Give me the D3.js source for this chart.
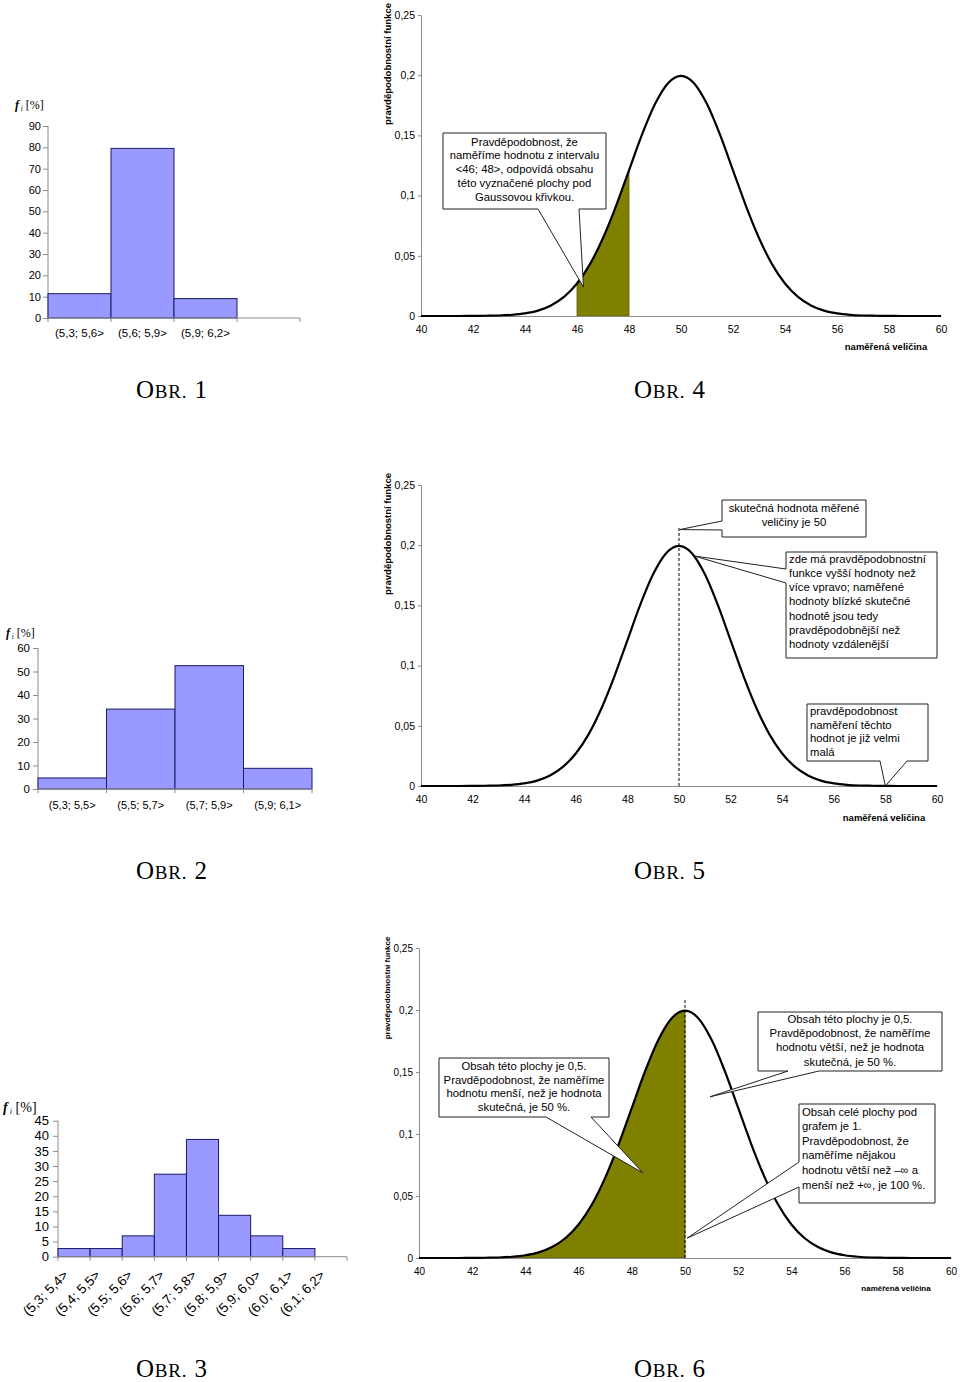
<!DOCTYPE html>
<html><head><meta charset="utf-8">
<script src="https://cdn.jsdelivr.net/npm/d3@7"></script>
<style>body{margin:0;background:#fff} svg{display:block}</style>
</head><body>
<svg id="c" width="960" height="1382"></svg>
<script>
// ---------------- data ----------------
const hist1Categories = ["(5,3; 5,6>", "(5,6; 5,9>", "(5,9; 6,2>"];
const hist1Values = [11.4, 79.5, 9.1];
const hist1Ticks = [0, 10, 20, 30, 40, 50, 60, 70, 80, 90];

const hist2Categories = ["(5,3; 5,5>", "(5,5; 5,7>", "(5,7; 5,9>", "(5,9; 6,1>"];
const hist2Values = [4.7, 34.0, 52.5, 8.8];
const hist2Ticks = [0, 10, 20, 30, 40, 50, 60];

const hist3Categories = ["(5,3; 5,4>", "(5,4; 5,5>", "(5,5; 5,6>", "(5,6; 5,7>", "(5,7; 5,8>",
                         "(5,8; 5,9>", "(5,9; 6,0>", "(6,0; 6,1>", "(6,1; 6,2>"];
const hist3Values = [2.7, 2.7, 6.9, 27.3, 38.8, 13.7, 6.9, 2.7, 0];
const hist3Ticks = [0, 5, 10, 15, 20, 25, 30, 35, 40, 45];

// probability density (same curve in Obr. 4, 5, 6)
const gaussX = [40, 40.5, 41, 41.5, 42, 42.5, 43, 43.5, 44, 44.5, 45, 45.5, 46, 46.5, 47, 47.5, 48, 48.5, 49, 49.5,
                50, 50.5, 51, 51.5, 52, 52.5, 53, 53.5, 54, 54.5, 55, 55.5, 56, 56.5, 57, 57.5, 58, 58.5, 59, 59.5, 60];
const gaussY = [0, 0, 0, 0, 0.0001, 0.0002, 0.0004, 0.0010, 0.0022, 0.0045, 0.0088, 0.0159, 0.0270, 0.0431, 0.0648,
                0.0913, 0.1210, 0.1506, 0.1760, 0.1934, 0.1995, 0.1934, 0.1760, 0.1506, 0.1210, 0.0913, 0.0648,
                0.0431, 0.0270, 0.0159, 0.0088, 0.0045, 0.0022, 0.0010, 0.0004, 0.0002, 0.0001, 0, 0, 0, 0];
const probTicks = [0, 0.05, 0.1, 0.15, 0.2, 0.25];
const probTickLabels = ["0", "0,05", "0,1", "0,15", "0,2", "0,25"];
const valueTicks = [40, 42, 44, 46, 48, 50, 52, 54, 56, 58, 60];
const trueValue = 50;
const obr4Interval = [46, 48];
const obr6Interval = [40, 50];

// ---------------- drawing ----------------
const SANS = "'Liberation Sans', Arial, sans-serif";
const SERIF = "'Liberation Serif', 'Times New Roman', serif";
const AXIS = "#8c8c8c";
const svg = d3.select("#c");

function fLabel(x, y, size) {
  const t = svg.append("text").attr("x", x).attr("y", y).attr("font-family", SERIF).attr("font-size", size);
  t.append("tspan").attr("font-style", "italic").attr("font-weight", "bold").text("f");
  t.append("tspan").attr("font-style", "italic").attr("font-size", size * 0.6).attr("dy", 2).text(" i");
  t.append("tspan").attr("dy", -2).text(" [%]");
}

function histogram(c) {
  const g = svg.append("g");
  const slots = d3.range(c.nBands);
  const x = d3.scaleBand().domain(slots).range([c.x0, c.x1]);
  const y = d3.scaleLinear().domain([0, c.yMax]).range([c.y0, c.yTop]);
  // y axis
  const ya = g.append("g").attr("transform", `translate(${c.x0},0)`)
    .call(d3.axisLeft(y).tickValues(c.ticks).tickSize(5).tickSizeOuter(0).tickPadding(c.pad));
  ya.select(".domain").attr("stroke", AXIS).attr("d", `M0,${c.y0}V${y(c.ticks[c.ticks.length - 1])}`);
  ya.selectAll(".tick line").attr("stroke", AXIS);
  ya.selectAll(".tick text").attr("font-family", SANS).attr("font-size", c.tickFont).attr("fill", "#000");
  // bars
  g.selectAll("rect.bar").data(c.vals.map((v, i) => ({ v, i })).filter(d => d.v > 0)).join("rect")
    .attr("class", "bar")
    .attr("x", d => x(d.i)).attr("width", x.bandwidth())
    .attr("y", d => y(d.v)).attr("height", d => c.y0 - y(d.v))
    .attr("fill", "#9999ff").attr("stroke", "#1a1a66").attr("stroke-width", 1);
  // x axis line + boundary ticks
  g.append("line").attr("x1", c.x0).attr("x2", c.x1).attr("y1", c.y0).attr("y2", c.y0).attr("stroke", AXIS);
  const bounds = slots.map(i => x(i)).concat([c.x1]);
  g.selectAll("line.xt").data(bounds).join("line").attr("class", "xt")
    .attr("x1", d => d).attr("x2", d => d).attr("y1", c.y0).attr("y2", c.y0 + 4).attr("stroke", AXIS);
  // category labels
  c.cats.forEach((cat, i) => {
    const cx = x(i) + x.bandwidth() / 2;
    const t = g.append("text").attr("font-family", SANS).attr("font-size", c.labelFont).text(cat);
    if (c.rotate) {
      t.attr("text-anchor", "end").attr("transform", `translate(${cx - 5},${c.labelY}) rotate(-45)`);
    } else {
      t.attr("text-anchor", "middle").attr("x", cx).attr("y", c.labelY);
    }
  });
  fLabel(c.fx, c.fy, c.fSize);
}

function callout(g, c) {
  const { x, y, w, h, side, a, b, tip } = c;
  let pts;
  if (side === "bottom") pts = [[x, y], [x + w, y], [x + w, y + h], [b, y + h], tip, [a, y + h], [x, y + h]];
  else pts = [[x, y], [x + w, y], [x + w, y + h], [x, y + h], [x, b], tip, [x, a]];
  g.append("path").attr("d", "M" + pts.map(p => p.join(",")).join("L") + "Z")
    .attr("fill", "#fff").attr("stroke", "#222").attr("stroke-width", 1);
  const t = g.append("text").attr("font-family", SANS).attr("font-size", c.font)
    .attr("text-anchor", c.align === "left" ? "start" : "middle");
  c.lines.forEach((ln, i) => {
    t.append("tspan").attr("x", c.align === "left" ? x + 3 : x + w / 2)
      .attr("y", c.firstY + i * c.lineH).text(ln);
  });
}

function gaussPanel(c) {
  const g = svg.append("g");
  const x = d3.scaleLinear().domain([40, 60]).range([c.x0, c.x1]);
  const y = d3.scaleLinear().domain([0, 0.25]).range([c.y0, c.yTop]);
  const pts = gaussX.map((v, i) => [v, gaussY[i]]);
  // fill
  if (c.interval) {
    const sub = pts.filter(p => p[0] >= c.interval[0] && p[0] <= c.interval[1]);
    g.append("path").datum(sub)
      .attr("d", d3.area().x(d => x(d[0])).y0(c.y0).y1(d => y(d[1])).curve(d3.curveMonotoneX))
      .attr("fill", "#808000").attr("stroke", "#5a5a00").attr("stroke-width", 0.8);
  }
  // axes
  const ya = g.append("g").attr("transform", `translate(${c.x0},0)`)
    .call(d3.axisLeft(y).tickValues(probTicks).tickFormat((d, i) => probTickLabels[i])
      .tickSize(3).tickSizeOuter(0).tickPadding(c.yPad));
  ya.select(".domain").attr("stroke", AXIS);
  ya.selectAll(".tick line").attr("stroke", AXIS);
  ya.selectAll(".tick text").attr("font-family", SANS).attr("font-size", c.tickFont).attr("fill", "#000");
  const xa = g.append("g").attr("transform", `translate(0,${c.y0})`)
    .call(d3.axisBottom(x).tickValues(valueTicks).tickSize(0).tickSizeOuter(0).tickPadding(c.xPad));
  xa.select(".domain").attr("stroke", AXIS);
  xa.selectAll(".tick text").attr("font-family", SANS).attr("font-size", c.tickFont).attr("fill", "#000");
  // dashed line
  if (c.dashTop) {
    g.append("line").attr("x1", x(trueValue)).attr("x2", x(trueValue)).attr("y1", c.y0).attr("y2", y(c.dashTop))
      .attr("stroke", "#000").attr("stroke-width", 1).attr("stroke-dasharray", "3,2");
  }
  // curve
  g.append("path").datum(pts)
    .attr("d", d3.line().x(d => x(d[0])).y(d => y(d[1])).curve(d3.curveMonotoneX))
    .attr("fill", "none").attr("stroke", "#000").attr("stroke-width", 2.2);
  // titles
  g.append("text").attr("font-family", SANS).attr("font-weight", "bold").attr("font-size", c.titleFont)
    .attr("text-anchor", "middle").attr("transform", `translate(${c.ytX},${c.ytY}) rotate(-90)`)
    .text("pravděpodobnostní funkce");
  g.append("text").attr("font-family", SANS).attr("font-weight", "bold").attr("font-size", c.titleFont)
    .attr("text-anchor", "middle").attr("x", c.xtX).attr("y", c.xtY).text("naměřená veličina");
  (c.callouts || []).forEach(co => callout(g, co(x, y)));
}

function caption(x, y, num) {
  const t = svg.append("text").attr("x", x).attr("y", y).attr("font-family", SERIF).attr("font-size", 25)
    .attr("letter-spacing", 0.8);
  t.append("tspan").text("O");
  t.append("tspan").attr("font-size", 19).text("BR.");
  t.append("tspan").text(" " + num);
}

// Obr. 1
histogram({ cats: hist1Categories, vals: hist1Values, ticks: hist1Ticks, nBands: 4,
  x0: 48, x1: 300, y0: 318, yTop: 126, yMax: 90, pad: 2, tickFont: 11, labelFont: 11.5, labelY: 337,
  fx: 15, fy: 109, fSize: 12 });
// Obr. 2
histogram({ cats: hist2Categories, vals: hist2Values, ticks: hist2Ticks, nBands: 4,
  x0: 38, x1: 312, y0: 789, yTop: 648, yMax: 60, pad: 3, tickFont: 11.5, labelFont: 11, labelY: 809,
  fx: 6, fy: 637, fSize: 12 });
// Obr. 3
histogram({ cats: hist3Categories, vals: hist3Values, ticks: hist3Ticks, nBands: 9,
  x0: 58, x1: 347, y0: 1256.7, yTop: 1120.7, yMax: 45, pad: 4, tickFont: 13, labelFont: 13.5, labelY: 1276, rotate: true,
  fx: 3, fy: 1112, fSize: 14 });

// Obr. 4
gaussPanel({ x0: 421, x1: 941, y0: 316, yTop: 15, interval: obr4Interval, tickFont: 10.5, yPad: 3, xPad: 10,
  titleFont: 9.5, ytX: 391, ytY: 64, xtX: 886, xtY: 350,
  callouts: [(x, y) => ({ x: 443, y: 133, w: 163, h: 76, side: "bottom", a: 538, b: 579, tip: [x(46.25), y(0.024)],
    align: "center", font: 11.3, firstY: 145.5, lineH: 13.9,
    lines: ["Pravděpodobnost, že", "naměříme hodnotu z intervalu", "<46; 48>, odpovídá obsahu",
            "této vyznačené plochy pod", "Gaussovou křivkou."] })] });
// Obr. 5
gaussPanel({ x0: 421, x1: 937, y0: 786, yTop: 485, dashTop: 0.215, tickFont: 10.5, yPad: 3, xPad: 10,
  titleFont: 9.5, ytX: 391, ytY: 534, xtX: 884, xtY: 821,
  callouts: [
    (x, y) => ({ x: 722, y: 500, w: 144, h: 37, side: "left", a: 521, b: 530, tip: [x(50.03), y(0.213)],
      align: "center", font: 11.3, firstY: 512, lineH: 14, lines: ["skutečná hodnota měřené", "veličiny je 50"] }),
    (x, y) => ({ x: 786, y: 552, w: 151, h: 106, side: "left", a: 569, b: 583, tip: [x(50.6), y(0.191)],
      align: "left", font: 11.3, firstY: 562.5, lineH: 14.3,
      lines: ["zde má pravděpodobnostní", "funkce vyšší hodnoty než", "více vpravo; naměřené",
              "hodnoty blízké skutečné", "hodnotě jsou tedy", "pravděpodobnější než", "hodnoty vzdálenější"] }),
    (x, y) => ({ x: 807, y: 704, w: 121, h: 57, side: "bottom", a: 880, b: 907, tip: [x(58), y(0)],
      align: "left", font: 11.3, firstY: 715, lineH: 13.6,
      lines: ["pravděpodobnost", "naměření těchto", "hodnot je již velmi", "malá"] })
  ] });
// Obr. 6
gaussPanel({ x0: 419, x1: 951, y0: 1258, yTop: 948, interval: obr6Interval, dashTop: 0.208, tickFont: 10, yPad: 3, xPad: 10,
  titleFont: 8, ytX: 390, ytY: 988, xtX: 896, xtY: 1291,
  callouts: [
    (x, y) => ({ x: 439, y: 1058, w: 170, h: 59, side: "bottom", a: 546, b: 591, tip: [x(48.42), y(0.0686)],
      align: "center", font: 11.3, firstY: 1070, lineH: 13.6,
      lines: ["Obsah této plochy je 0,5.", "Pravděpodobnost, že naměříme", "hodnotu menší, než je hodnota", "skutečná, je 50 %."] }),
    (x, y) => ({ x: 758, y: 1012, w: 184, h: 59, side: "bottom", a: 788, b: 819, tip: [x(50.94), y(0.13)],
      align: "center", font: 11.3, firstY: 1023, lineH: 14.2,
      lines: ["Obsah této plochy je 0,5.", "Pravděpodobnost, že naměříme", "hodnotu větší, než je hodnota", "skutečná, je 50 %."] }),
    (x, y) => ({ x: 799, y: 1104, w: 136, h: 99, side: "left", a: 1162, b: 1187, tip: [x(50.08), y(0.016)],
      align: "left", font: 11.3, firstY: 1115.5, lineH: 14.6,
      lines: ["Obsah celé plochy pod", "grafem je 1.", "Pravděpodobnost, že", "naměříme nějakou",
              "hodnotu větší než –∞ a", "menší než +∞, je 100 %."] })
  ] });

caption(136, 398, 1);
caption(634, 398, 4);
caption(136, 879, 2);
caption(634, 879, 5);
caption(136, 1377, 3);
caption(634, 1377, 6);
</script>
</body></html>
